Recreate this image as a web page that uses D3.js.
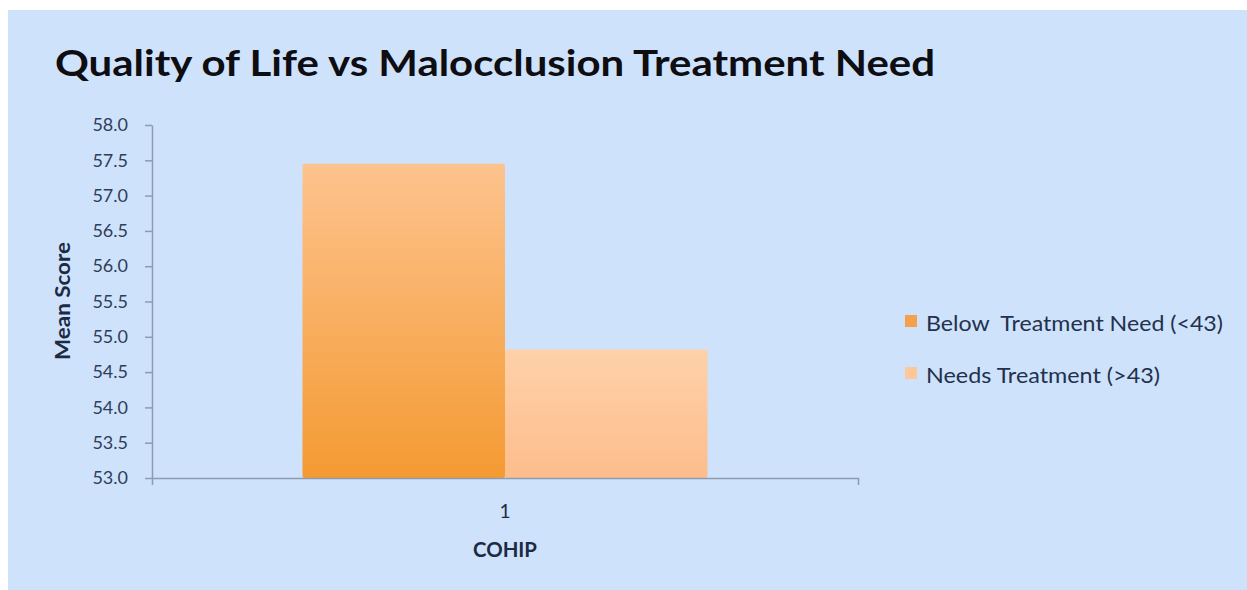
<!DOCTYPE html>
<html>
<head>
<meta charset="utf-8">
<script src="https://cdn.jsdelivr.net/npm/d3@7"></script>
<style>
  html, body { margin: 0; padding: 0; background: #fff; }
  svg { display: block; }
</style>
</head>
<body>
<div id="chart"></div>
<script>
// chart values
const categories = ["1"];
const seriesNames = ["Below  Treatment Need (<43)", "Needs Treatment (>43)"];
const seriesValues = [57.45, 54.82];
const yTicks = [53.0, 53.5, 54.0, 54.5, 55.0, 55.5, 56.0, 56.5, 57.0, 57.5, 58.0];

const W = 1247, H = 590;
const margin = { top: 125, right: 389, bottom: 112, left: 152 };
const width = W - margin.left - margin.right;
const height = H - margin.top - margin.bottom;

const font = "Lato, 'Open Sans', 'Noto Sans', sans-serif";
const textColor = "#1c2a44";

const svg = d3.select("#chart").append("svg")
  .attr("width", W)
  .attr("height", H);

// gradients for the bars
const defs = svg.append("defs");
const gradStops = [
  ["#fdc38e", "#f49a32"],
  ["#fed1a9", "#fdbd8c"]
];
gradStops.forEach(function(s, i) {
  const g = defs.append("linearGradient")
    .attr("id", "grad" + i)
    .attr("x1", 0).attr("y1", 0).attr("x2", 0).attr("y2", 1);
  g.append("stop").attr("offset", "0%").attr("stop-color", s[0]);
  g.append("stop").attr("offset", "100%").attr("stop-color", s[1]);
});
const legendColors = ["#f5a04a", "#fdc79a"];

// background panel
svg.append("rect")
  .attr("x", 8).attr("y", 10)
  .attr("width", W - 8).attr("height", H - 10)
  .attr("fill", "#cee2fb");

svg.append("text")
  .attr("x", 55)
  .attr("y", 76)
  .attr("textLength", 880)
  .attr("lengthAdjust", "spacingAndGlyphs")
  .style("font-family", font)
  .style("font-weight", "bold")
  .style("font-size", "37px")
  .style("fill", "#0d0d12")
  .text("Quality of Life vs Malocclusion Treatment Need");

const g = svg.append("g")
  .attr("transform", `translate(${margin.left},${margin.top})`);

const x0 = d3.scaleBand().domain(categories).range([0, width]).padding(0);
const x1 = d3.scaleBand().domain(d3.range(seriesNames.length))
  .range([0, x0.bandwidth()]).paddingOuter(0.743).paddingInner(0);
const y = d3.scaleLinear().domain([53, 58]).range([height, 0]);

// bars
g.selectAll("rect.bar")
  .data(seriesValues)
  .enter()
  .append("rect")
  .attr("class", "bar")
  .attr("x", function(d, i) { return x0("1") + x1(i); })
  .attr("y", function(d) { return y(d); })
  .attr("width", x1.bandwidth())
  .attr("height", function(d) { return height - y(d); })
  .attr("rx", 2)
  .attr("fill", function(d, i) { return "url(#grad" + i + ")"; });

// y axis
const yAxis = g.append("g")
  .call(d3.axisLeft(y).tickValues(yTicks).tickFormat(d3.format(".1f")).tickSize(7).tickSizeOuter(0));
yAxis.select(".domain").attr("stroke", "#8d9cb0").attr("stroke-width", 1.5);
yAxis.selectAll(".tick line").attr("stroke", "#8d9cb0").attr("stroke-width", 1.5);
yAxis.selectAll(".tick text")
  .attr("x", -24)
  .style("font-family", font)
  .style("font-size", "18px")
  .style("fill", "#2e3d58");

// x axis
const xAxis = g.append("g")
  .attr("transform", `translate(0,${height})`)
  .call(d3.axisBottom(x0).tickSize(0).tickSizeOuter(7));
xAxis.select(".domain").attr("stroke", "#8d9cb0").attr("stroke-width", 1.5);
xAxis.selectAll(".tick text")
  .attr("y", 27)
  .style("font-family", font)
  .style("font-size", "19px")
  .style("fill", textColor);

// axis titles
g.append("text")
  .attr("x", x0("1") + x0.bandwidth() / 2)
  .attr("y", height + 79)
  .attr("text-anchor", "middle")
  .attr("textLength", 64)
  .attr("lengthAdjust", "spacingAndGlyphs")
  .style("font-family", font)
  .style("font-weight", "bold")
  .style("font-size", "20px")
  .style("fill", textColor)
  .text("COHIP");

svg.append("text")
  .attr("transform", "translate(70,301) rotate(-90)")
  .attr("text-anchor", "middle")
  .attr("textLength", 118)
  .attr("lengthAdjust", "spacingAndGlyphs")
  .style("font-family", font)
  .style("font-weight", "bold")
  .style("font-size", "20px")
  .style("fill", textColor)
  .text("Mean Score");

// legend
const legend = svg.append("g").attr("transform", "translate(905,315)");
const items = legend.selectAll("g.item")
  .data(seriesNames)
  .enter()
  .append("g")
  .attr("class", "item")
  .attr("transform", function(d, i) { return `translate(0,${i * 52})`; });
items.append("rect")
  .attr("width", 12).attr("height", 12)
  .attr("fill", function(d, i) { return legendColors[i]; });
items.append("text")
  .attr("x", 21)
  .attr("y", 16)
  .attr("xml:space", "preserve")
  .attr("textLength", function(d, i) { return i === 0 ? 297 : 234; })
  .attr("lengthAdjust", "spacingAndGlyphs")
  .style("font-family", font)
  .style("font-size", "22px")
  .style("fill", "#23314c")
  .text(function(d) { return d; });
</script>
</body>
</html>
